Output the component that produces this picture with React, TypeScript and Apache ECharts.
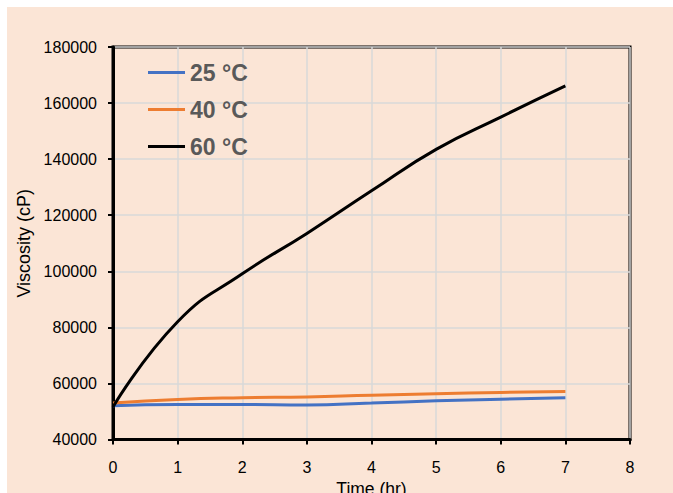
import React, { useEffect, useRef } from "react";
import * as echarts from "echarts";

const hours = [0, 1, 2, 3, 4, 5, 6, 7];
const v25 = [52000, 52500, 52500, 52300, 53000, 53800, 54400, 54900];
const v40 = [53000, 54300, 54900, 55200, 55800, 56300, 56800, 57100];
const v60 = [51600, 82000, 99100, 113500, 128700, 143500, 155000, 166100];
const seriesNames = ["25 °C", "40 °C", "60 °C"];
const seriesColors = ["#4472C4", "#ED7D31", "#000000"];

const sans = "'Liberation Sans', Arial, sans-serif";

export default function App() {
  const ref = useRef<HTMLDivElement>(null);
  useEffect(() => {
    document.body.style.margin = "0";
    if (!ref.current) return;
    const chart = echarts.init(ref.current, undefined, { renderer: "svg" });
    const values = [v25, v40, v60];
    chart.setOption({
      animation: false,
      backgroundColor: "#ffffff",
      graphic: [
        {
          type: "rect",
          z: -10,
          silent: true,
          shape: { x: 7, y: 7, width: 666, height: 486 },
          style: { fill: "#FBE5D6" },
        },
      ],
      grid: {
        left: 113,
        top: 47,
        right: 43,
        bottom: 53.5,
        show: true,
        borderColor: "#000",
        borderWidth: 3,
        backgroundColor: "transparent",
        outerBoundsMode: "none",
        containLabel: false,
      },
      legend: {
        orient: "vertical",
        left: 143,
        top: 56,
        itemGap: 14,
        itemWidth: 37,
        itemHeight: 3,
        icon: "rect",
        data: seriesNames,
        textStyle: {
          fontFamily: sans,
          fontWeight: "bold",
          fontSize: 23,
          color: "#595959",
        },
      },
      xAxis: {
        type: "value",
        min: 0,
        max: 8,
        interval: 1,
        name: "Time (hr)",
        nameLocation: "middle",
        nameGap: 32,
        nameTextStyle: { fontFamily: sans, fontSize: 17.5, color: "#000" },
        axisLine: { show: true, lineStyle: { color: "#000", width: 3 } },
        axisTick: { show: true, length: 5, lineStyle: { color: "#000", width: 2 } },
        axisLabel: { fontFamily: sans, fontSize: 16, color: "#000", margin: 20 },
        splitLine: { show: true, lineStyle: { color: "#D9D9D9", width: 1.5 } },
      },
      yAxis: {
        type: "value",
        min: 40000,
        max: 180000,
        interval: 20000,
        name: "Viscosity (cP)",
        nameLocation: "middle",
        nameGap: 69,
        nameTextStyle: { fontFamily: sans, fontSize: 18, color: "#000" },
        axisLine: { show: true, lineStyle: { color: "#000", width: 3 } },
        axisTick: { show: true, length: 5, lineStyle: { color: "#000", width: 2 } },
        axisLabel: {
          fontFamily: sans,
          fontSize: 16,
          color: "#000",
          margin: 16,
          formatter: (v: number) => String(v),
        },
        splitLine: { show: true, lineStyle: { color: "#D9D9D9", width: 1.5 } },
      },
      series: seriesNames.map((name, i) => ({
        name,
        type: "line",
        smooth: 0.5,
        showSymbol: false,
        symbol: "none",
        data: hours.map((h, j) => [h, values[i][j]]),
        lineStyle: { color: seriesColors[i], width: 3 },
        itemStyle: { color: seriesColors[i] },
        z: i === 2 ? 3 : 2,
      })),
    });
    return () => chart.dispose();
  }, []);
  return <div ref={ref} style={{ width: 673, height: 493 }} />;
}
